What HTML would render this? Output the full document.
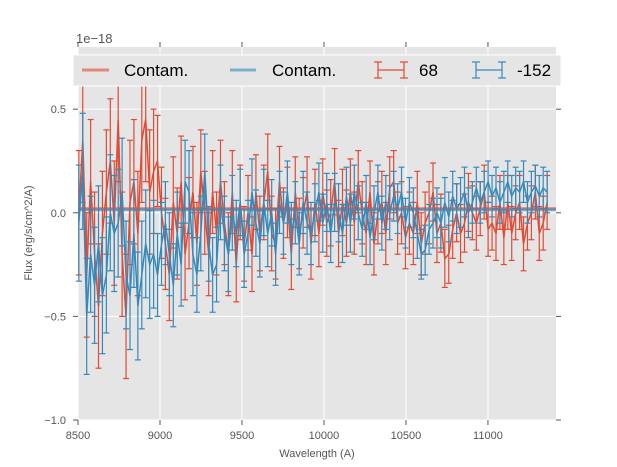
<!DOCTYPE html>
<html><head><meta charset="utf-8"><style>
body{margin:0;background:#fff;}
svg{display:block;font-family:"Liberation Sans","DejaVu Sans",sans-serif;}
</style></head><body>
<svg id="chart" width="617" height="467" viewBox="0 0 617 467">
<rect x="78" y="47" width="478" height="373" fill="#e5e5e5"/>
<g id="grid"></g><g id="series"></g><g id="axes"></g>
<text x="76" y="43" font-size="13" fill="#555">1e−18</text>
<text x="317" y="457" font-size="11" fill="#555" text-anchor="middle">Wavelength (A)</text>
<text transform="translate(32,233) rotate(-90)" font-size="11" fill="#555" text-anchor="middle">Flux (erg/s/cm^2/A)</text>
<g>
<rect x="73" y="55" width="488" height="31" fill="#e5e5e5" stroke="#fff" stroke-width="1"/>
<g><line x1="82" y1="70" x2="109" y2="70" stroke="#E24A33" stroke-opacity="0.6" stroke-width="3"/><text x="124" y="76" font-size="17" fill="#000">Contam.</text></g>
<g><line x1="230" y1="70" x2="256" y2="70" stroke="#348ABD" stroke-opacity="0.6" stroke-width="3"/><text x="272" y="76" font-size="17" fill="#000">Contam.</text></g>
<g stroke="#E24A33" stroke-width="1.2"><line x1="378" y1="70" x2="404" y2="70"/><line x1="378" y1="62" x2="378" y2="78"/><line x1="404" y1="62" x2="404" y2="78"/><line x1="374" y1="62" x2="382" y2="62"/><line x1="374" y1="78" x2="382" y2="78"/><line x1="400" y1="62" x2="408" y2="62"/><line x1="400" y1="78" x2="408" y2="78"/><text x="419" y="76" font-size="17" fill="#000" stroke="none">68</text></g>
<g stroke="#348ABD" stroke-width="1.2"><line x1="476" y1="70" x2="502" y2="70"/><line x1="476" y1="62" x2="476" y2="78"/><line x1="502" y1="62" x2="502" y2="78"/><line x1="472" y1="62" x2="480" y2="62"/><line x1="472" y1="78" x2="480" y2="78"/><line x1="498" y1="62" x2="506" y2="62"/><line x1="498" y1="78" x2="506" y2="78"/><text x="517" y="76" font-size="17" fill="#000" stroke="none">-152</text></g>
</g>
</svg>
<script>
const xStart = 8505, xStep = 24;
const redVals = [
0.0,0.35,-0.3,0.15,-0.2,-0.45,-0.1,0.1,0.25,-0.05,
0.45,-0.2,-0.5,0.05,0.15,-0.1,0.35,0.45,0.1,0.2,
0.25,0.0,-0.15,-0.3,0.05,-0.1,0.15,-0.2,-0.05,0.1,
-0.15,0.2,0.0,-0.2,0.1,-0.1,0.15,-0.05,-0.2,0.1,
-0.25,0.05,-0.15,0.0,-0.2,0.1,-0.1,0.05,0.2,-0.1,
-0.15,0.15,-0.05,0.05,-0.2,0.1,-0.1,0.0,0.1,-0.15,
0.05,-0.1,0.1,-0.05,0.0,0.15,-0.1,0.05,-0.05,0.1,
-0.05,0.15,0.0,-0.1,0.1,-0.15,0.0,0.05,-0.1,0.12,
0.15,-0.05,0.0,-0.12,-0.05,-0.1,0.05,-0.15,-0.05,0.0,
0.1,-0.1,-0.05,-0.22,-0.2,-0.08,0.0,-0.1,-0.05,0.05,
0.0,-0.05,0.02,0.1,-0.08,-0.05,-0.1,0.05,-0.12,0.05,
-0.1,0.0,0.05,-0.15,-0.05,0.0,0.1,-0.1,-0.05,0.05];
const blueVals = [
-0.05,0.2,-0.5,-0.2,-0.35,-0.15,-0.4,-0.3,0.0,-0.1,
-0.05,0.1,-0.3,-0.4,-0.1,-0.45,-0.3,-0.15,-0.25,-0.2,
-0.3,-0.15,-0.05,-0.2,-0.35,-0.1,-0.25,0.15,0.1,-0.2,
-0.3,-0.1,0.2,-0.15,-0.3,-0.25,0.05,-0.1,-0.2,0.0,
-0.1,0.05,-0.2,-0.1,0.1,-0.05,-0.15,0.05,-0.1,0.0,
-0.2,0.05,-0.05,0.1,-0.1,0.0,-0.15,0.05,-0.05,-0.1,
0.0,0.1,-0.05,0.05,-0.1,0.05,0.0,-0.1,0.08,-0.05,
0.1,0.0,-0.08,0.05,-0.12,0.0,0.1,-0.05,0.05,0.0,
0.08,0.02,0.1,-0.05,0.05,0.0,-0.1,-0.2,-0.18,-0.08,
-0.05,0.0,-0.05,0.05,-0.02,0.08,0.02,0.05,0.1,0.0,
0.05,0.12,0.05,0.1,0.15,0.08,0.12,0.05,0.1,0.15,
0.08,0.12,0.1,0.15,0.05,0.1,0.13,0.08,0.12,0.1];
const redErrByGroup = [0.3,0.3,0.22,0.2,0.18,0.17,0.16,0.15,0.15,0.14,0.13,0.13];
const blueErrByGroup = [0.28,0.26,0.2,0.18,0.16,0.15,0.14,0.13,0.12,0.12,0.1,0.1];
const contamRed = 0.02, contamBlue = 0.015;
const xTicks = [8500,9000,9500,10000,10500,11000];
const yTicks = [-1.0,-0.5,0.0,0.5];
const yTickLabels = ["−1.0","−0.5","0.0","0.5"];

const X0=78,X1=556,Y0=420,Y1=47,xmin=8500,xmax=11415,ymin=-1.0,ymax=0.8;
const sx=v=>X0+(v-xmin)/(xmax-xmin)*(X1-X0);
const sy=v=>Y0-(v-ymin)/(ymax-ymin)*(Y0-Y1);
const NS="http://www.w3.org/2000/svg";
function mk(tag,attrs,parent){const e=document.createElementNS(NS,tag);for(const k in attrs)e.setAttribute(k,attrs[k]);parent.appendChild(e);return e;}
const grid=document.getElementById('grid'),axes=document.getElementById('axes'),ser=document.getElementById('series');
xTicks.forEach(t=>{const x=sx(t);
 const g=mk('line',{x1:x,x2:x,y1:Y1,y2:Y0,stroke:'#fff','stroke-width':1},grid);
 
 
 mk('line',{x1:x,x2:x,y1:Y0,y2:Y0+5,stroke:'#555'},axes);
 mk('line',{x1:x,x2:x,y1:Y1,y2:Y1-5,stroke:'#555'},axes);
 const tx=mk('text',{x:x,y:Y0+19,'font-size':11,fill:'#555','text-anchor':'middle'},axes);
 tx.textContent=t;
 
 
});
yTicks.forEach((t,i)=>{const y=sy(t);
 const g=mk('line',{x1:X0,x2:X1,y1:y,y2:y,stroke:'#fff','stroke-width':1},grid);
 
 
 mk('line',{x1:X0-5,x2:X0,y1:y,y2:y,stroke:'#555'},axes);
 mk('line',{x1:X1,x2:X1+5,y1:y,y2:y,stroke:'#555'},axes);
 const tx=mk('text',{x:X0-12,y:y+4,'font-size':11,fill:'#555','text-anchor':'end'},axes);
 tx.textContent=yTickLabels[i];
 
 
});
function drawSeries(vals,errs,color,name){
 const g=mk('g',{stroke:color,'stroke-width':1.2,fill:'none'},ser);
 
 
 let d='';
 vals.forEach((v,i)=>{const x=sx(xStart+i*xStep);const e=errs[Math.floor(i/10)];
  const ya=sy(v+e),yb=sy(v-e);
  mk('line',{x1:x,x2:x,y1:ya,y2:yb},g);
  mk('line',{x1:x-3,x2:x+3,y1:ya,y2:ya},g);
  mk('line',{x1:x-3,x2:x+3,y1:yb,y2:yb},g);
  d+=(i?'L':'M')+x.toFixed(1)+','+sy(v).toFixed(1);
 });
 const p=mk('path',{d:d,'stroke-width':1.5},g);
 
 
}
drawSeries(redVals,redErrByGroup,'#E24A33','series-68');
drawSeries(blueVals,blueErrByGroup,'#348ABD','series-neg152');
const c1=mk('line',{x1:X0,x2:X1,y1:sy(contamRed),y2:sy(contamRed),stroke:'#E24A33','stroke-opacity':0.6,'stroke-width':3},ser);


const c2=mk('line',{x1:X0,x2:X1,y1:sy(contamBlue),y2:sy(contamBlue),stroke:'#348ABD','stroke-opacity':0.6,'stroke-width':3},ser);


</script>
</body></html>
